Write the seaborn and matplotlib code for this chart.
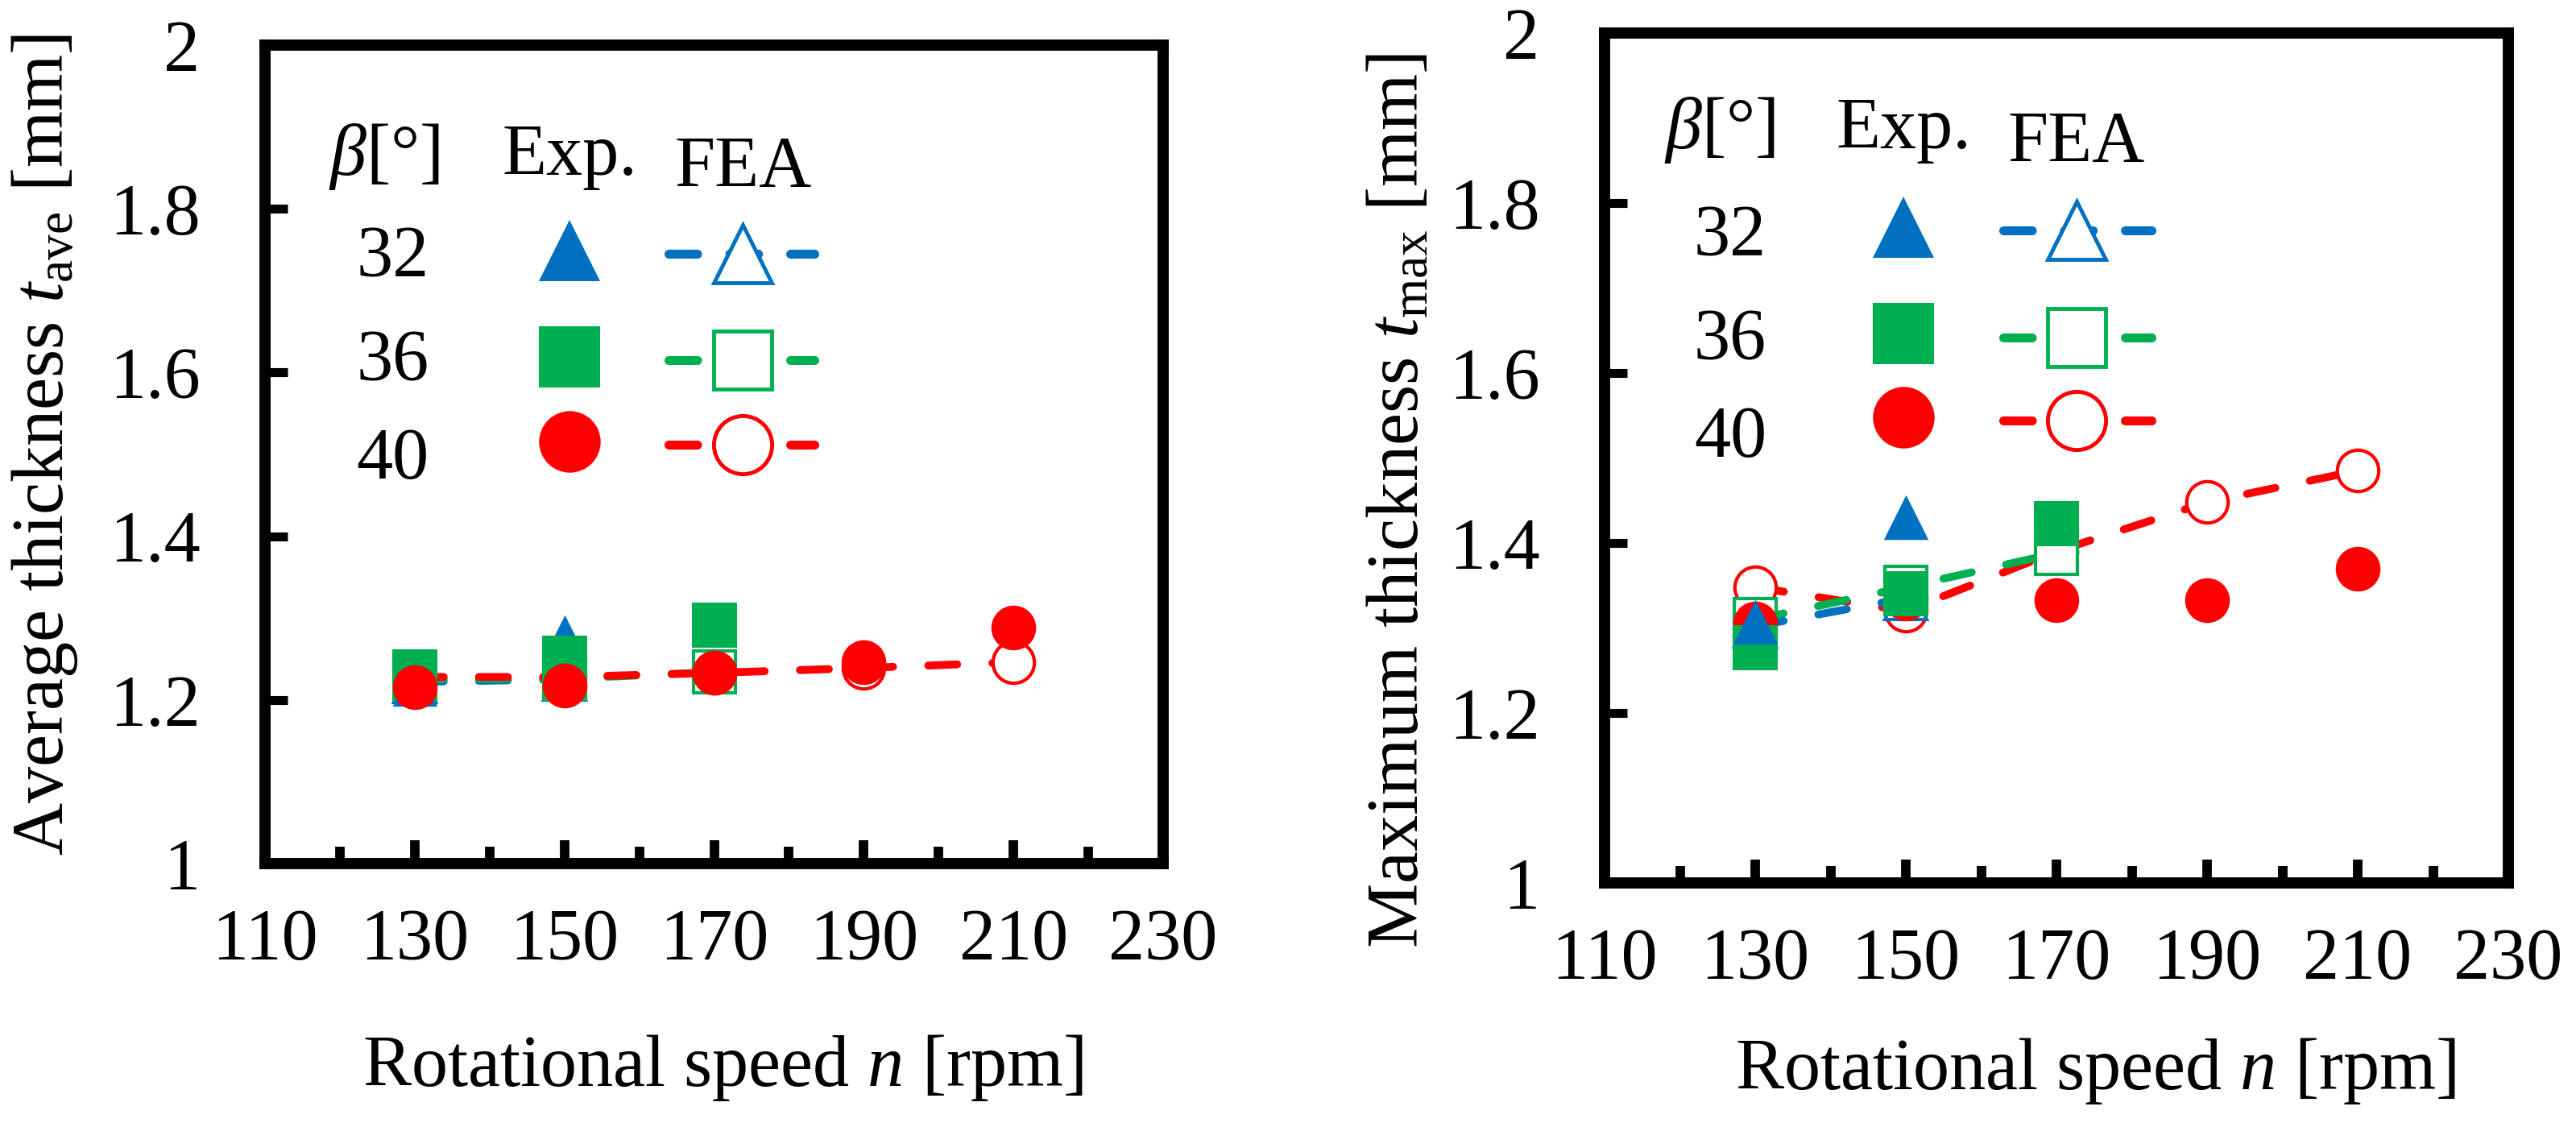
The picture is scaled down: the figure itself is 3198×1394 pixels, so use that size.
import matplotlib
matplotlib.use("Agg")
import matplotlib.pyplot as plt
import seaborn as sns

# values
RPM = [130, 150, 170, 190, 210]
BETAS = ["32", "36", "40"]

# average thickness t_ave [mm]
ave_exp_32 = [1.219, 1.277]
ave_exp_36 = [1.234, 1.251, 1.291]
ave_exp_40 = [1.216, 1.218, 1.233, 1.246, 1.288]
ave_fea_32 = [1.222, 1.225]
ave_fea_36 = [1.225, 1.226, 1.234]
ave_fea_40 = [1.228, 1.228, 1.233, 1.239, 1.246]

# maximum thickness t_max [mm]
max_exp_32 = [1.307, 1.430]
max_exp_36 = [1.277, 1.340, 1.423]
max_exp_40 = [1.305, 1.335, 1.333, 1.333, 1.370]
max_fea_32 = [1.302, 1.335]
max_fea_36 = [1.310, 1.348, 1.388]
max_fea_40 = [1.348, 1.320, 1.390, 1.448, 1.485]

XTICKS = [110, 130, 150, 170, 190, 210, 230]
XMINOR = [120, 140, 160, 180, 200, 220]
YTICKS = [1.0, 1.2, 1.4, 1.6, 1.8, 2.0]
YTICKLABELS = ["1", "1.2", "1.4", "1.6", "1.8", "2"]

COLORS = {"32": "#0070C0", "36": "#00B050", "40": "#FF0000"}
MARKERS = {"32": "^", "36": "s", "40": "o"}

sns.set_theme(style="white")
plt.rcParams["font.family"] = ["Liberation Serif", "DejaVu Serif"]
plt.rcParams["mathtext.fontset"] = "custom"
plt.rcParams["mathtext.rm"] = "Liberation Serif"
plt.rcParams["mathtext.it"] = "Liberation Serif:italic"
plt.rcParams["mathtext.bf"] = "Liberation Serif:bold"

FS = 65
DASH = (0, (3.7, 4.5))
LEG_DASH = (0, (3.2, 3.6))


def draw_legend(ax, lp):
    kw = dict(transform=ax.transAxes, fontsize=FS, ha="center", va="baseline", color="black")
    ax.text(lp["beta_x"], lp["head_y"], r"$\beta$[°]", **kw)
    ax.text(lp["exp_x"], lp["head_y"], "Exp.", **kw)
    ax.text(lp["fea_x"], lp["fea_head_y"], "FEA", **kw)
    for i, b in enumerate(BETAS):
        c = COLORS[b]
        ax.text(lp["num_x"], lp["num_y"][i], b, **kw)
        ax.plot([lp["exp_x"]], [lp["mk_y"][i]], transform=ax.transAxes, marker=MARKERS[b],
                markersize=55, color=c, markeredgewidth=0, linestyle="none", clip_on=False)
        y = lp["mk_y"][i] - 0.004
        ax.plot(lp["dash_x"], [y, y], transform=ax.transAxes, color=c, linewidth=8,
                linestyle=LEG_DASH, dash_capstyle="round", clip_on=False)
        ax.plot([lp["fea_x"]], [y], transform=ax.transAxes, marker=MARKERS[b],
                markersize=52, markerfacecolor="white", markeredgecolor=c,
                markeredgewidth=3.5, linestyle="none", clip_on=False)


def draw_panel(ax, exp, fea, order, ylabel, lp, ylab_xy, xlab_xy):
    z = 3
    for b in order:
        vals = fea[b]
        c = COLORS[b]
        sns.lineplot(x=RPM[:len(vals)], y=vals, ax=ax, color=c, marker=MARKERS[b],
                     markersize=37, markerfacecolor="white", markeredgecolor=c,
                     markeredgewidth=3, linewidth=7, linestyle=DASH,
                     dash_capstyle="round", errorbar=None, zorder=z)
        z += 1
    for b in order:
        vals = exp[b]
        c = COLORS[b]
        sns.scatterplot(x=RPM[:len(vals)], y=vals, ax=ax, color=c, marker=MARKERS[b],
                        s=40 ** 2, edgecolor=c, linewidth=0, zorder=z, legend=False)
        z += 1

    ax.set_xlim(110, 230)
    ax.set_ylim(1, 2)
    ax.set_xticks(XTICKS)
    ax.set_xticklabels([str(v) for v in XTICKS])
    ax.set_xticks(XMINOR, minor=True)
    ax.set_yticks(YTICKS)
    ax.set_yticklabels(YTICKLABELS)
    ax.tick_params(axis="both", which="both", direction="in", bottom=True, left=True,
                   top=False, right=False, colors="black", labelsize=FS)
    ax.tick_params(axis="x", which="major", length=21, width=8.5, pad=40)
    ax.tick_params(axis="x", which="minor", length=15, width=8.5)
    ax.tick_params(axis="y", which="major", length=20, width=8, pad=58)
    for s in ax.spines.values():
        s.set_linewidth(10)
        s.set_color("black")
        s.set_capstyle("projecting")
        s.set_zorder(20)

    ax.set_xlabel("Rotational speed $n$ [rpm]", fontsize=FS, color="black")
    ax.xaxis.label.set_va("baseline")
    ax.xaxis.set_label_coords(*xlab_xy)
    ax.set_ylabel(ylabel, fontsize=FS, color="black")
    ax.yaxis.label.set_va("center")
    ax.yaxis.set_label_coords(*ylab_xy)
    ax.grid(False)
    draw_legend(ax, lp)


fig = plt.figure(figsize=(31.98, 13.94), dpi=100)
fig.patch.set_facecolor("white")

ax1 = fig.add_axes([329 / 3198, 1 - 1072 / 1394, 1115 / 3198, 1016 / 1394])
ax2 = fig.add_axes([1992 / 3198, 1 - 1096 / 1394, 1122 / 3198, 1055 / 1394])

draw_panel(
    ax1,
    {"32": ave_exp_32, "36": ave_exp_36, "40": ave_exp_40},
    {"32": ave_fea_32, "36": ave_fea_36, "40": ave_fea_40},
    ["32", "36", "40"],
    r"Average thickness $t_{\mathrm{ave}}$ [mm]",
    dict(beta_x=0.133, exp_x=0.339, fea_x=0.532, head_y=0.842, fea_head_y=0.827,
         num_x=0.142, num_y=[0.717, 0.590, 0.470], mk_y=[0.749, 0.619, 0.516],
         dash_x=[0.449, 0.612]),
    (-0.245, 0.512),
    (0.51, -0.272),
)

draw_panel(
    ax2,
    {"32": max_exp_32, "36": max_exp_36, "40": max_exp_40},
    {"32": max_fea_32, "36": max_fea_36, "40": max_fea_40},
    ["40", "36", "32"],
    r"Maximum thickness $t_{\mathrm{max}}$ [mm]",
    dict(beta_x=0.127, exp_x=0.331, fea_x=0.522, head_y=0.864, fea_head_y=0.848,
         num_x=0.139, num_y=[0.738, 0.616, 0.501], mk_y=[0.772, 0.646, 0.548],
         dash_x=[0.441, 0.605]),
    (-0.227, 0.45),
    (0.543, -0.243),
)

fig.savefig("out.png", dpi=100, facecolor="white")
